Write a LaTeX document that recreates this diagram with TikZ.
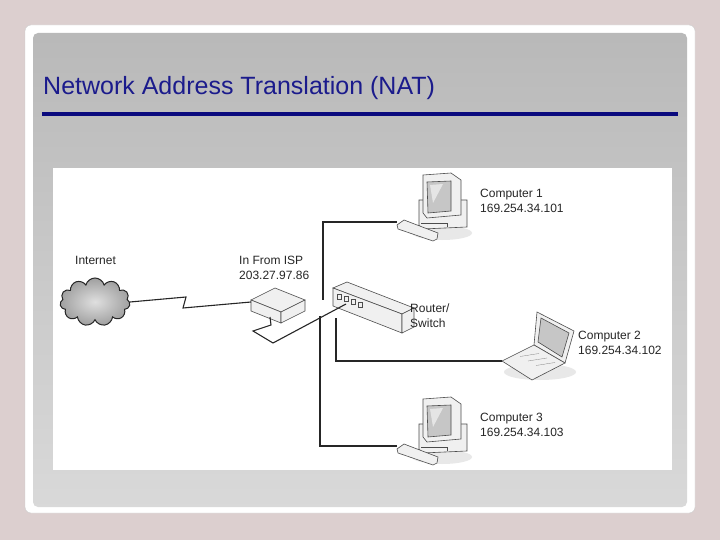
\documentclass[tikz,border=0pt]{standalone}
\usepackage{fontspec}
\setmainfont{Liberation Sans}
\usetikzlibrary{positioning,shapes.symbols}
\definecolor{slidebg}{HTML}{DCCFCF}
\definecolor{titleblue}{HTML}{1B1B8C}
\definecolor{ruleblue}{HTML}{0A0A7E}
\tikzset{
  lbl/.style={anchor=north west, inner sep=0pt, font=\fontsize{12}{15}\selectfont, align=left, text=black!85},
  wire/.style={draw=black!85, line width=1.1pt},
  body/.style={draw=black!70, line width=0.6pt, fill=gray!12},
  dark/.style={draw=black!70, line width=0.6pt, fill=gray!45}
}
\newcommand\pcunit[2]{%
  \begin{scope}[shift={(#1,#2)}]
    \fill[gray!18] (25,60) ellipse (30 and 7);
    \draw[body] (2,27) -- (50,27) -- (50,54) -- (6,56) -- (2,52) -- cycle;
    \draw[body] (4,50) -- (30,50) -- (30,54);
    \draw[body] (6,2) -- (34,0) -- (44,7) -- (44,42) -- (10,45) -- (6,40) -- cycle;
    \draw[dark] (10,9) -- (34,8) -- (34,38) -- (11,40) -- cycle;
    \fill[white!80!gray] (13,12) -- (26,11) -- (16,30) -- cycle;
    \draw[body] (-20,52) -- (-13,47) -- (21,60) -- (20,66) -- (16,68) -- (-19,56) -- cycle;
  \end{scope}}
\begin{document}
\begin{tikzpicture}[x=1pt,y=-1pt]
\useasboundingbox (0,0) rectangle (720,540);
\fill[slidebg] (0,0) rectangle (720,540);
\draw[gray!40, fill=white, rounded corners=6pt] (25,25) rectangle (695,513);
\shade[top color=gray!55, bottom color=gray!30, rounded corners=5pt] (33,33) rectangle (687,507);
\node[anchor=west, inner sep=0pt, text=titleblue, font=\fontsize{25}{29}\selectfont] (title) at (43,88) {Network Address Translation (NAT)};
\draw[ruleblue, line width=4pt] (42,114) -- (678,114);
\fill[white] (53,168) rectangle (672,470);
% cloud
\node[draw=black!85, line width=1pt, inner color=gray!25, outer color=gray!75, cloud, cloud puffs=11, aspect=1.4, minimum width=70pt, minimum height=48pt, inner sep=0pt] (net) at (95,302) {};
\node[lbl] (netlbl) at (75,256) {Internet};
% ISP modem
\draw[body] (251,300) -- (275,288) -- (305,300) -- (281,312) -- cycle;
\draw[body] (251,300) -- (281,312) -- (281,323) -- (251,311) -- cycle;
\draw[body] (281,312) -- (305,300) -- (305,311) -- (281,323) -- cycle;
\coordinate (modem) at (251,302);
\coordinate (mport) at (270,317);
\node[lbl] (isplbl) at (239,256) {In From ISP\\203.27.97.86};
% router/switch
\draw[body] (333,288) -- (347,282) -- (414,308) -- (402,314) -- cycle;
\draw[body] (333,288) -- (402,314) -- (402,333) -- (333,306) -- cycle;
\draw[body] (402,314) -- (414,308) -- (414,327) -- (402,333) -- cycle;
\foreach \i in {0,1,2,3} \draw[black!70] (337+7*\i,294+2.6*\i) rectangle +(4,5);
\coordinate (rt) at (323,300);
\coordinate (rb) at (320,316);
\coordinate (rm) at (336,318);
\coordinate (rp) at (346,304);
\node[lbl] (rtlbl) at (410,304) {Router/\\Switch};
% computers
\pcunit{417}{173}
\coordinate (pc1) at (397,222);
\node[lbl] (pc1lbl) at (480,189) {Computer 1\\169.254.34.101};
\pcunit{417}{397}
\coordinate (pc3) at (397,446);
\node[lbl] (pc3lbl) at (480,413) {Computer 3\\169.254.34.103};
% laptop
\fill[gray!18] (540,372) ellipse (36 and 8);
\draw[body] (534,345) -- (537,312) -- (574,331) -- (565,363) -- cycle;
\draw[dark] (538,342) -- (541,318) -- (569,333) -- (562,357) -- cycle;
\draw[body] (534,345) -- (565,363) -- (532,380) -- (502,361) -- cycle;
\foreach \i in {1,2,3} \draw[black!50, line width=0.3pt] (512+8*\i,352+4.5*\i) -- (545+8*\i-14,352+4.5*\i-3);
\coordinate (pc2) at (502,361);
\node[lbl] (pc2lbl) at (578,331) {Computer 2\\169.254.34.102};
% connectors
\draw[wire] (net.east) -- (186,297) -- (183,308) -- (modem);
\draw[wire] (mport) -- (271,325) -- (253,331) -- (273,343) -- (rp);
\draw[wire] (pc1) -| (rt);
\draw[wire] (pc3) -| (rb);
\draw[wire] (pc2) -| (rm);
\end{tikzpicture}
\end{document}
